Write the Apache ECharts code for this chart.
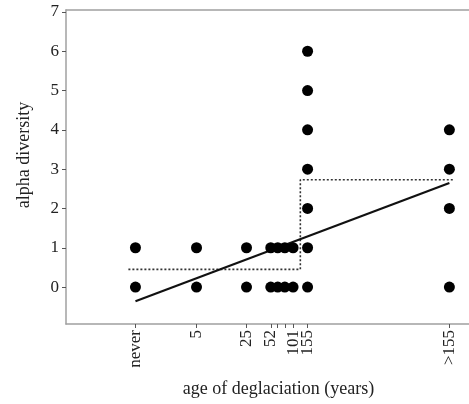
<!DOCTYPE html>
<html>
<head>
<meta charset="utf-8">
<script src="https://cdn.jsdelivr.net/npm/echarts@6/dist/echarts.min.js"></script>
<style>
  html, body { margin: 0; padding: 0; background: #fff; }
  #chart { width: 469px; height: 404px; }
</style>
</head>
<body>
<div id="chart"></div>
<script>
// age classes (years since deglaciation); null = beyond the dated range
const ageYears = [0, 5, 25, 52, 64, 79, 101, 155, null];
const ageLabels = ['never', '5', '25', '52', '', '', '101', '155', '>155'];
// alpha diversity values observed in each age class
const diversity = [
  [0, 1], [0, 1], [0, 1], [0, 1], [0, 1], [0, 1], [0, 1],
  [0, 1, 2, 3, 4, 5, 6],
  [0, 2, 3, 4]
];
// group means (dotted step) and linear fit (solid)
const stepLevels = [0.45, 2.73];
const fitEnds = [-0.36, 2.65];
const yTicks = [0, 1, 2, 3, 4, 5, 6, 7];

// x axis is log10(age + 1); the open class sits at 4
function agePos(a) { return a === null ? 4 : Math.log10(a + 1); }
const xPos = ageYears.map(agePos);
const splitPos = (xPos[6] + xPos[7]) / 2;

const points = [];
diversity.forEach((vals, i) => vals.forEach(v => points.push([xPos[i], v])));

const serif = 'Liberation Serif';
const gray = '#a0a0a0';

const chart = echarts.init(document.getElementById('chart'));
chart.setOption({
  animation: false,
  grid: { left: 66, right: 0, top: 10, bottom: 80, containLabel: false },
  xAxis: [{
    type: 'value',
    min: -0.885,
    max: 4.25,
    name: 'age of deglaciation (years)',
    nameLocation: 'middle',
    nameGap: 56,
    nameTextStyle: { fontFamily: serif, fontSize: 18, color: '#222', padding: [0, 0, 0, 22] },
    axisLine: { show: true, onZero: false, lineStyle: { color: gray, width: 1.5 } },
    axisTick: { show: true, length: 4, customValues: xPos, lineStyle: { color: '#555' } },
    axisLabel: {
      customValues: xPos,
      rotate: 90,
      margin: 6,
      fontFamily: serif, fontSize: 17, color: '#222',
      formatter: v => {
        const i = xPos.findIndex(p => Math.abs(p - v) < 1e-6);
        return i >= 0 ? ageLabels[i] : '';
      }
    },
    splitLine: { show: false }
  }, {
    type: 'value', position: 'top', min: -0.885, max: 4.25,
    axisLine: { show: true, onZero: false, lineStyle: { color: gray, width: 1.5 } },
    axisTick: { show: false }, axisLabel: { show: false }, splitLine: { show: false }
  }],
  yAxis: {
    type: 'value',
    min: -0.94,
    max: 7.05,
    name: 'alpha diversity',
    nameLocation: 'middle',
    nameGap: 33,
    nameTextStyle: { fontFamily: serif, fontSize: 18, color: '#222', padding: [0, 0, 0, 24] },
    axisLine: { show: true, onZero: false, lineStyle: { color: gray, width: 1.5 } },
    axisTick: { show: true, length: 4, customValues: yTicks, lineStyle: { color: '#555' } },
    axisLabel: { customValues: yTicks, margin: 7, fontFamily: serif, fontSize: 17, color: '#222' },
    splitLine: { show: false }
  },
  series: [
    {
      type: 'line',
      data: [[-0.09, stepLevels[0]], [splitPos, stepLevels[0]], [splitPos, stepLevels[1]], [4.05, stepLevels[1]]],
      symbol: 'none',
      lineStyle: { color: '#333', width: 1.6, type: [2, 2] },
      z: 2
    },
    {
      type: 'line',
      data: [[0, fitEnds[0]], [4, fitEnds[1]]],
      symbol: 'none',
      lineStyle: { color: '#111', width: 2.2 },
      z: 3
    },
    {
      type: 'scatter',
      data: points,
      symbolSize: 11,
      itemStyle: { color: '#000', opacity: 1 },
      z: 4
    }
  ]
});
</script>
</body>
</html>
